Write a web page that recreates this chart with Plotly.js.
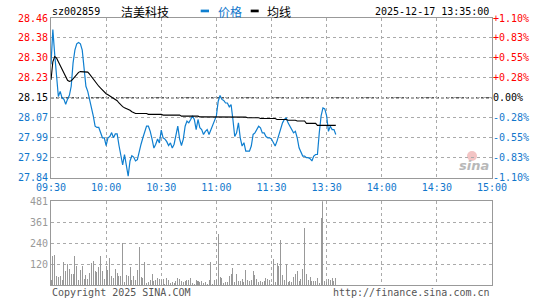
<!DOCTYPE html>
<html><head><meta charset="utf-8">
<script src="https://cdn.plot.ly/plotly-3.0.1.min.js"></script>
<style>html,body{margin:0;padding:0;background:#fff;overflow:hidden}#chart{width:545px;height:300px}</style>
</head><body><div id="chart"></div>
<script>
// ---- data ----
const stockCode = "sz002859";
const stockName = "洁美科技";
const timestamp = "2025-12-17 13:35:00";
const copyrightText = "Copyright 2025 SINA.COM";
const siteText = "http://finance.sina.com.cn";
const legendPrice = "价格";
const legendAvg = "均线";
const prevClose = 28.15;
const priceMin = 27.84;
const priceMax = 28.46;
const priceTickLabels = ["27.84","27.92","27.99","28.07","28.15","28.23","28.30","28.38","28.46"];
const pctTickLabels = ["-1.10%","-0.83%","-0.55%","-0.28%","0.00%","+0.28%","+0.55%","+0.83%","+1.10%"];
const timeTickLabels = ["09:30","10:00","10:30","11:00","11:30","13:30","14:00","14:30","15:00"];
const sessionMinutes = 240;
const volMax = 481;
const volTickVals = [120, 240, 361, 481];

const price = [
 28.28,28.415,28.32,28.23,28.155,28.175,28.15,28.145,28.125,28.145,
 28.16,28.195,28.285,28.335,28.36,28.365,28.36,28.335,28.26,28.195,
 28.175,28.145,28.11,28.08,28.04,28.035,28.035,28.015,27.995,27.995,
 27.965,27.995,28.0,28.015,27.995,28.01,28.01,27.965,27.93,27.89,
 27.93,27.885,27.846,27.905,27.925,27.92,27.905,27.91,27.945,27.97,
 27.995,28.015,28.04,28.04,28.02,27.99,27.955,27.97,27.99,27.975,
 28.025,27.995,27.99,27.98,27.965,27.975,27.955,27.97,28.0,28.04,
 27.99,27.965,27.99,28.04,28.06,28.053,28.066,28.08,28.066,28.027,
 28.066,28.034,28.027,28.008,28.02,28.027,28.008,28.027,28.04,28.066,
 28.08,28.137,28.159,28.144,28.14,28.13,28.13,28.115,28.124,28.066,
 28.0,28.014,28.053,27.995,27.963,27.976,27.943,27.943,27.943,27.963,
 28.008,28.014,28.027,28.04,28.034,28.014,28.014,28.0,27.995,27.995,
 27.99,27.976,27.963,27.982,28.008,28.027,28.053,28.066,28.072,28.053,
 28.04,28.027,28.014,28.02,27.995,27.956,27.943,27.924,27.924,27.918,
 27.918,27.914,27.905,27.924,27.93,27.93,28.014,28.08,28.111,28.107,
 28.08,28.02,28.04,28.027,28.027,28.008
];
const avgPrice = [
 28.22,28.29,28.31,28.305,28.29,28.275,28.26,28.245,28.23,28.218,
 28.214,28.216,28.224,28.234,28.243,28.249,28.252,28.252,28.252,28.252,
 28.25,28.242,28.232,28.222,28.212,28.204,28.195,28.188,28.18,28.172,
 28.166,28.162,28.158,28.153,28.15,28.146,28.139,28.13,28.122,28.116,
 28.112,28.109,28.106,28.102,28.096,28.092,28.089,28.089,28.089,28.089,
 28.089,28.089,28.089,28.086,28.086,28.086,28.086,28.086,28.086,28.086,
 28.086,28.083,28.083,28.083,28.083,28.083,28.083,28.083,28.083,28.083,
 28.083,28.079,28.079,28.079,28.079,28.079,28.079,28.079,28.079,28.079,
 28.079,28.076,28.076,28.076,28.076,28.076,28.076,28.076,28.076,28.076,
 28.076,28.076,28.076,28.076,28.076,28.076,28.076,28.076,28.076,28.076,
 28.076,28.075,28.075,28.075,28.075,28.075,28.075,28.073,28.073,28.073,
 28.073,28.073,28.073,28.073,28.07,28.07,28.07,28.07,28.07,28.07,
 28.07,28.07,28.07,28.066,28.066,28.066,28.066,28.066,28.066,28.063,
 28.063,28.063,28.063,28.063,28.06,28.06,28.06,28.06,28.06,28.051,
 28.051,28.051,28.051,28.051,28.051,28.043,28.043,28.043,28.043,28.043,
 28.043,28.043,28.043,28.043,28.043,28.043
];
const volume = [
 30,168,174,53,46,50,30,135,78,122,
 94,65,65,168,107,27,84,111,34,59,
 36,69,126,139,78,73,101,168,78,34,
 111,88,157,53,40,94,69,53,53,241,
 15,59,53,101,30,53,27,88,218,44,
 40,135,11,15,27,65,25,30,40,36,
 27,34,6,40,30,11,15,11,21,40,
 36,21,15,21,27,30,40,11,8,27,
 21,15,21,11,15,8,27,134,6,30,
 30,294,44,40,11,17,15,53,65,97,
 15,65,25,25,34,15,88,30,21,30,
 82,59,34,17,21,15,25,40,34,27,
 6,151,15,126,111,260,59,30,122,15,
 21,15,46,65,78,21,34,94,326,65,
 27,46,21,21,21,40,11,384,481,21,
 15,34,30,40,21,40
];

// ---- styles ----
const RED = "#ff0000", BLUE = "#0f7fd0", LBLUE = "#1177cc", GRAY = "#999999";
const MONO = "DejaVu Sans Mono, monospace";
const CJK = "Noto Sans CJK SC, sans-serif";

const minuteIdx = price.map((_, i) => i);
const nTicks = priceTickLabels.length;
const priceTickVals = priceTickLabels.map((_, i) => priceMin + i * (priceMax - priceMin) / (nTicks - 1));
const mid = (nTicks - 1) / 2;
const colorFor = i => i > mid ? RED : (i === mid ? "#000000" : LBLUE);
const leftText = priceTickLabels.map((t, i) => `<span style="color:${colorFor(i)}">${t}</span>`);
const rightText = pctTickLabels.map((t, i) => `<span style="color:${colorFor(i)}">${t}</span>`);
const timeTickVals = timeTickLabels.map((_, i) => i * sessionMinutes / (timeTickLabels.length - 1));

const L = 51, R = 53, T = 18, B = 15, PW = 545 - L - R, PH = 300 - T - B;
const px = x => (x - L) / PW;
const py = y => (300 - B - y) / PH;

const traces = [
  {x: minuteIdx, y: price, type: "scatter", mode: "lines", line: {color: BLUE, width: 1.2}, xaxis: "x", yaxis: "y", hoverinfo: "skip"},
  {x: minuteIdx, y: avgPrice, type: "scatter", mode: "lines", line: {color: "#000000", width: 1.1}, xaxis: "x", yaxis: "y2", hoverinfo: "skip"},
  {x: minuteIdx, y: volume, type: "bar", width: 0.55, marker: {color: GRAY, line: {width: 0}}, xaxis: "x2", yaxis: "y3", hoverinfo: "skip"}
];

const gridCommon = {showgrid: true, gridcolor: "#aaaaaa", griddash: "dot", gridwidth: 1, zeroline: false,
  showline: true, mirror: true, linecolor: GRAY, linewidth: 1, ticks: "", fixedrange: true};

const layout = {
  width: 545, height: 300, margin: {l: L, r: R, t: T, b: B, pad: 0},
  paper_bgcolor: "#ffffff", plot_bgcolor: "#ffffff", showlegend: false, bargap: 0,
  xaxis: Object.assign({}, gridCommon, {domain: [0, 1], range: [0, sessionMinutes], anchor: "y",
    tickvals: timeTickVals, ticktext: timeTickLabels, tickfont: {family: MONO, size: 10, color: LBLUE}}),
  xaxis2: Object.assign({}, gridCommon, {domain: [0, 1], range: [0, sessionMinutes], anchor: "y3",
    tickvals: timeTickVals, showticklabels: false}),
  yaxis: Object.assign({}, gridCommon, {domain: [py(177.7), 1], range: [priceMin, priceMax], anchor: "x",
    tickvals: priceTickVals, ticktext: leftText, tickfont: {family: MONO, size: 10, color: "#000"}}),
  yaxis2: {overlaying: "y", side: "right", range: [priceMin, priceMax], anchor: "x", showgrid: false, zeroline: false,
    showline: false, ticks: "", tickvals: priceTickVals, ticktext: rightText, tickfont: {family: MONO, size: 10, color: "#000"}, fixedrange: true},
  yaxis3: Object.assign({}, gridCommon, {domain: [0, py(201.3)], range: [0, volMax], anchor: "x2",
    tickvals: volTickVals, tickfont: {family: MONO, size: 10, color: GRAY}}),
  shapes: [
    {type: "line", xref: "paper", x0: 0, x1: 1, yref: "y", y0: prevClose, y1: prevClose, layer: "between",
     line: {color: "#000000", width: 1, dash: "3px,2px"}},
    {type: "rect", xref: "paper", yref: "paper", x0: px(200.7), x1: px(209), y0: py(12.3), y1: py(9.6), fillcolor: BLUE, line: {width: 0}},
    {type: "rect", xref: "paper", yref: "paper", x0: px(250.7), x1: px(258.7), y0: py(12.3), y1: py(9.6), fillcolor: "#000", line: {width: 0}},
    {type: "circle", xref: "paper", yref: "paper", x0: px(467), x1: px(477), y0: py(161), y1: py(151), fillcolor: "#f3c4c4", line: {width: 0}, layer: "between"}
  ],
  annotations: [
    {text: stockCode, xref: "paper", yref: "paper", x: px(49.7), y: py(11.5), xanchor: "left", yanchor: "middle", showarrow: false, font: {family: MONO, size: 10, color: "#000"}},
    {text: stockName, xref: "paper", yref: "paper", x: px(118.5), y: py(11.5), xanchor: "left", yanchor: "middle", showarrow: false, font: {family: CJK, size: 12, color: "#000"}},
    {text: legendPrice, xref: "paper", yref: "paper", x: px(215.5), y: py(11.5), xanchor: "left", yanchor: "middle", showarrow: false, font: {family: CJK, size: 12, color: LBLUE}},
    {text: legendAvg, xref: "paper", yref: "paper", x: px(265), y: py(11.5), xanchor: "left", yanchor: "middle", showarrow: false, font: {family: CJK, size: 12, color: "#000"}},
    {text: timestamp, xref: "paper", yref: "paper", x: px(490.5), y: py(11.5), xanchor: "right", yanchor: "middle", showarrow: false, font: {family: MONO, size: 10, color: "#000"}},
    {text: copyrightText, xref: "paper", yref: "paper", x: px(50), y: py(292), xanchor: "left", yanchor: "middle", showarrow: false, font: {family: MONO, size: 10, color: "#555"}},
    {text: siteText, xref: "paper", yref: "paper", x: px(492), y: py(292), xanchor: "right", yanchor: "middle", showarrow: false, font: {family: MONO, size: 10, color: "#555"}},
    {text: "<b><i>sina</i></b>", xref: "paper", yref: "paper", x: px(474), y: py(165), xanchor: "center", yanchor: "middle", showarrow: false, font: {family: "DejaVu Sans, sans-serif", size: 13, color: "#b8b8b8"}}
  ]
};

Plotly.newPlot("chart", traces, layout, {displayModeBar: false, staticPlot: true});
</script>
</body></html>
